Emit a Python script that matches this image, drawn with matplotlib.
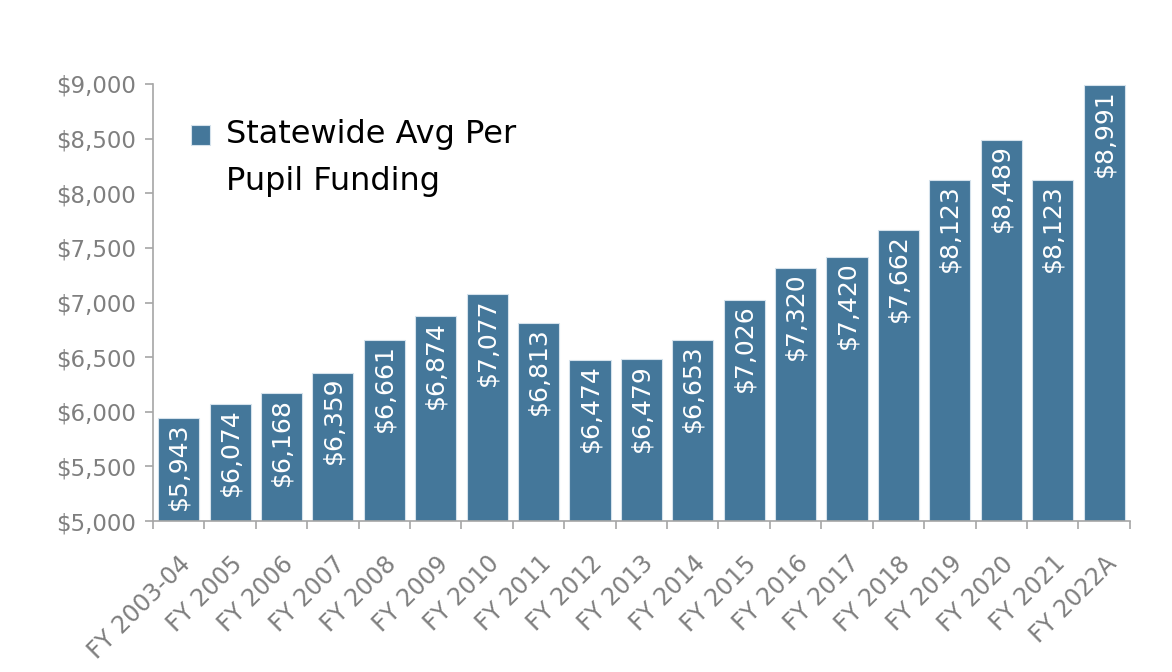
import matplotlib
matplotlib.use("Agg")
import matplotlib.pyplot as plt
from matplotlib.ticker import FuncFormatter, FixedLocator

years = ["FY 2003-04", "FY 2005", "FY 2006", "FY 2007", "FY 2008", "FY 2009",
         "FY 2010", "FY 2011", "FY 2012", "FY 2013", "FY 2014", "FY 2015",
         "FY 2016", "FY 2017", "FY 2018", "FY 2019", "FY 2020", "FY 2021",
         "FY 2022A"]
funding = [5943, 6074, 6168, 6359, 6661, 6874, 7077, 6813, 6474, 6479,
           6653, 7026, 7320, 7420, 7662, 8123, 8489, 8123, 8991]
series_name = "Statewide Avg Per\nPupil Funding"

BAR = "#44779A"
GREY = "#7F7F7F"
AXIS = "#A6A6A6"

plt.rcParams["font.family"] = ["DejaVu Sans"]

fig = plt.figure(figsize=(11.72, 6.72), dpi=100)
ax = fig.add_axes([0.1305, 0.2247, 0.8335, 0.6503])

x = list(range(len(years)))
ax.bar(x, funding, width=0.8, color=BAR, edgecolor="#D5E2EC", linewidth=0.8,
       label=series_name, zorder=2)

for xi, v in zip(x, funding):
    ax.text(xi, v - 40, f"${v:,}", rotation=90, ha="center", va="top",
            color="white", fontsize=18)

ax.set_ylim(5000, 9000)
ax.set_xlim(-0.5, len(years) - 0.5)
ax.set_yticks(range(5000, 9001, 500))
ax.yaxis.set_major_formatter(FuncFormatter(lambda v, p: f"${int(v):,}"))

# ticks at the category boundaries, labels at the centres
ax.xaxis.set_major_locator(FixedLocator([i - 0.5 for i in range(len(years) + 1)]))
ax.xaxis.set_major_formatter(FuncFormatter(lambda v, p: ""))
ax.set_xticks(x, minor=True)
ax.set_xticklabels(years, minor=True, rotation=45, ha="right",
                   rotation_mode="anchor", fontsize=17, color=GREY)
ax.tick_params(axis="x", which="minor", length=0, pad=22)
ax.tick_params(axis="x", which="major", length=6, color=AXIS, width=1.2)
ax.tick_params(axis="y", length=6, color=AXIS, width=1.2, labelsize=16.5,
               labelcolor=GREY, pad=6)

for s in ["top", "right"]:
    ax.spines[s].set_visible(False)
for s in ["left", "bottom"]:
    ax.spines[s].set_color(AXIS)
    ax.spines[s].set_linewidth(1.2)

leg = ax.legend(loc="upper left", bbox_to_anchor=(0.026, 0.95), frameon=False,
                fontsize=23, handlelength=0.6, handleheight=0.6,
                handletextpad=0.5, borderaxespad=0)
for t in leg.get_texts():
    t.set_linespacing(1.7)
# keep the square beside the first line, as in the source
for h in leg.legend_handles:
    h.set_y(h.get_y() + 17)

fig.savefig("out.png", dpi=100)
